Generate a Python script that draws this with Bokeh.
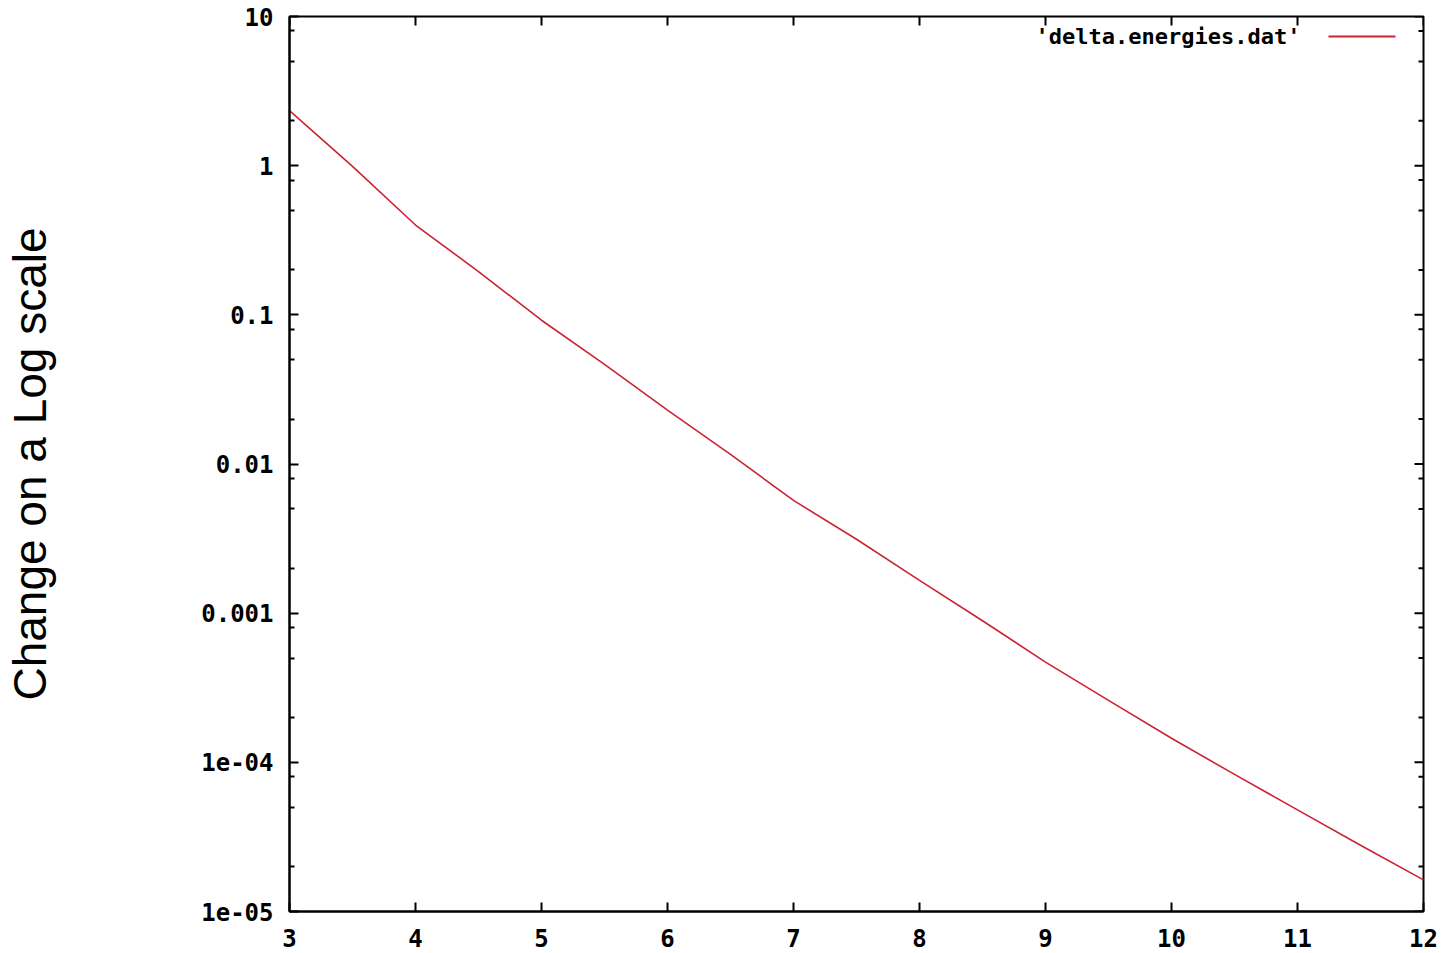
import math
from bokeh.plotting import figure
from bokeh.models import (FixedTicker, LinearAxis, LogAxis, Label, BoxAnnotation,
                          ColumnDataSource, Range1d)
from bokeh.embed import file_html
from bokeh.resources import INLINE

# ---- data ----
x_vals = [3.0, 3.5, 4.0, 4.5, 5.0, 5.5, 6.0, 6.5, 7.0, 7.5, 8.0,
          8.5, 9.0, 9.5, 10.0, 10.5, 11.0, 11.5, 12.0]
delta_energies = [2.34, 0.99, 0.40, 0.195, 0.092, 0.0466, 0.023, 0.0116, 0.0057,
                  0.00313, 0.00166, 8.9e-4, 4.7e-4, 2.6e-4, 1.45e-4, 8.3e-5,
                  4.8e-5, 2.78e-5, 1.63e-5]
x_ticks = [3, 4, 5, 6, 7, 8, 9, 10, 11, 12]
y_ticks = [1e-5, 1e-4, 1e-3, 1e-2, 1e-1, 1, 10]
y_tick_labels = ["1e-05", "1e-04", "0.001", "0.01", "0.1", "1", "10"]
y_minor = [m * 10.0 ** e for e in range(-5, 1) for m in (2, 5, 8)]
series_name = "'delta.energies.dat'"
y_label = "Change on a Log scale"

W, H = 1448, 953
FL, FR, FT, FB = 289, 1423, 16, 911          # frame edges in pixels
x_lo, x_hi, y_lo, y_hi = 3, 12, 1e-5, 10
p = figure(width=W, height=H, y_axis_type="log", output_backend="svg",
           toolbar_location=None, x_range=Range1d(x_lo, x_hi), y_range=Range1d(y_lo, y_hi),
           min_border_left=FL, min_border_right=W - FR, min_border_top=FT,
           min_border_bottom=H - FB, x_axis_location=None, y_axis_location=None)
p.grid.visible = False
p.outline_line_color = "black"
p.outline_line_width = 2
p.background_fill_color = "white"
p.border_fill_color = "white"

tick_font = "DejaVu Sans Mono"
MAJ, MIN = 9, 5

def style(ax):
    ax.axis_line_color = "black"
    ax.axis_line_width = 2
    ax.major_tick_in = MAJ
    ax.major_tick_out = 0
    ax.minor_tick_in = MIN
    ax.minor_tick_out = 0
    ax.major_tick_line_width = 2
    ax.minor_tick_line_width = 2
    ax.major_label_text_font = tick_font
    ax.major_label_text_font_style = "bold"
    ax.major_label_text_font_size = "24px"
    ax.major_label_text_color = "black"

xb = LinearAxis(ticker=FixedTicker(ticks=x_ticks))
style(xb)
xb.minor_tick_line_color = None
xb.major_label_standoff = 17
p.add_layout(xb, "below")

yl = LogAxis(ticker=FixedTicker(ticks=y_ticks, minor_ticks=y_minor))
style(yl)
yl.major_label_overrides = {t: l for t, l in zip(y_ticks, y_tick_labels)}
yl.major_label_standoff = 16
yl.axis_label = y_label
yl.axis_label_text_font = "Liberation Sans"
yl.axis_label_text_font_style = "normal"
yl.axis_label_text_font_size = "46px"
yl.axis_label_text_color = "black"
yl.axis_label_standoff = 142
p.add_layout(yl, "left")

# mirrored ticks on top and right borders (gnuplot style), drawn from the tick lists
px_per_x = (FR - FL) / (x_hi - x_lo)
px_per_dec = (FB - FT) / (math.log10(y_hi) - math.log10(y_lo))
top_in = 10 ** (-MAJ / px_per_dec)
p.segment(x0=x_ticks, y0=[y_hi] * len(x_ticks), x1=x_ticks, y1=[y_hi * top_in] * len(x_ticks),
          line_color="black", line_width=2)
p.segment(x0=[x_hi] * len(y_ticks), y0=y_ticks, x1=[x_hi - MAJ / px_per_x] * len(y_ticks),
          y1=y_ticks, line_color="black", line_width=2)
p.segment(x0=[x_hi] * len(y_minor), y0=y_minor, x1=[x_hi - MIN / px_per_x] * len(y_minor),
          y1=y_minor, line_color="black", line_width=2)

src = ColumnDataSource(dict(x=x_vals, y=delta_energies))
line_color = "#cc2233"
p.line("x", "y", source=src, line_color=line_color, line_width=1.6)

# legend (text then sample line, top right, gnuplot style)
p.add_layout(Label(x=1300 - FL, y=FB - 36, x_units="screen", y_units="screen", text=series_name,
                   text_align="right", text_baseline="middle", text_font=tick_font,
                   text_font_style="bold", text_font_size="22px", text_color="black"))
p.add_layout(BoxAnnotation(left=1328 - FL, right=1395 - FL, bottom=FB - 37, top=FB - 35,
                           left_units="screen", right_units="screen",
                           bottom_units="screen", top_units="screen",
                           fill_color=line_color, fill_alpha=1.0, line_color=None))

open("out.html", "w").write(file_html(p, INLINE))
